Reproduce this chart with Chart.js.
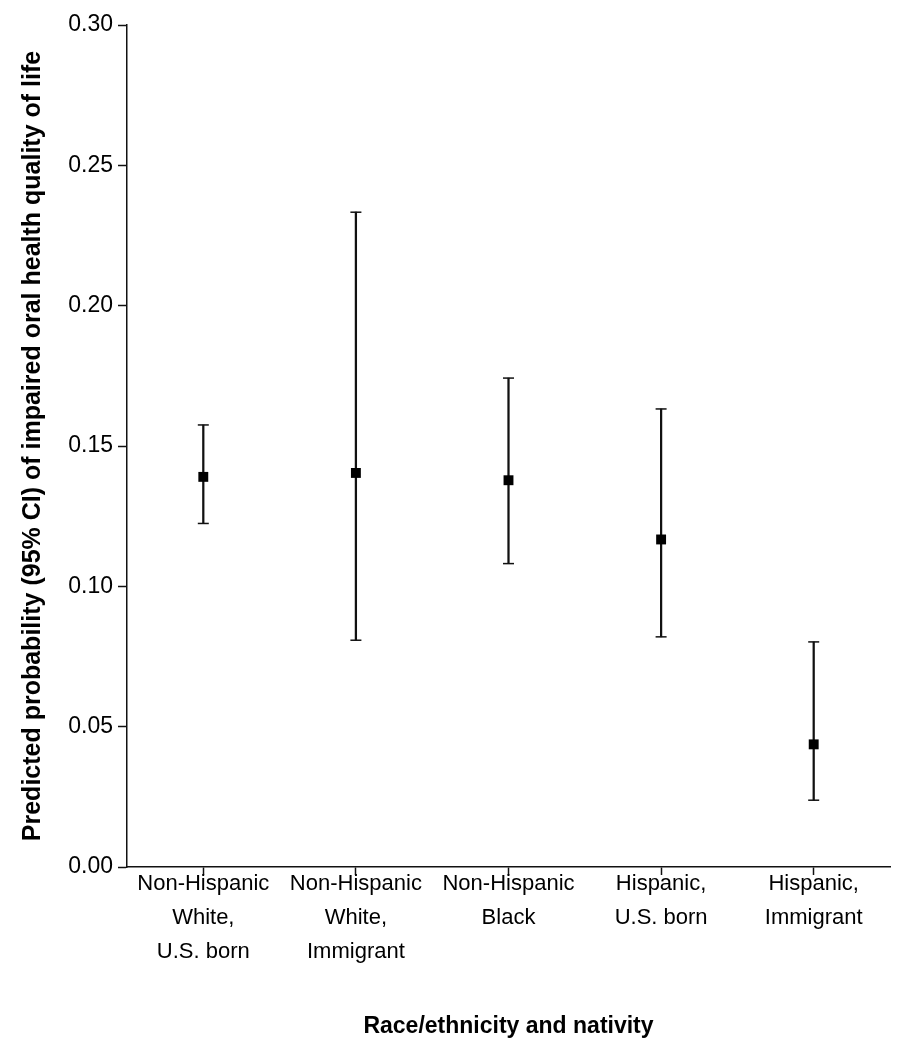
<!DOCTYPE html>
<html>
<head>
<meta charset="utf-8">
<script src="https://cdn.jsdelivr.net/npm/chart.js@4/dist/chart.umd.min.js"></script>
<style>
body{margin:0;background:#fff;}
#wrap{width:913px;height:1050px;position:relative;}
</style>
</head>
<body>
<div id="wrap"><canvas id="probChart"></canvas></div>
<script>
var groups = [
    ['Non-Hispanic', 'White,', 'U.S. born'],
    ['Non-Hispanic', 'White,', 'Immigrant'],
    ['Non-Hispanic', 'Black'],
    ['Hispanic,', 'U.S. born'],
    ['Hispanic,', 'Immigrant']
];
var estimate = [0.139, 0.1404, 0.1378, 0.1167, 0.0437];
var ciLow = [0.1224, 0.0808, 0.1081, 0.0820, 0.0238];
var ciHigh = [0.1575, 0.2333, 0.1742, 0.1632, 0.0802];
var yTicks = [0, 0.05, 0.10, 0.15, 0.20, 0.25, 0.30];

var fontName = "'Liberation Sans', Arial, sans-serif";
var ink = '#111';

window.addEventListener('DOMContentLoaded', init, false);

function init(){
    var whiskers = [];
    for (var i = 0; i < ciLow.length; i++){
        whiskers.push([ciLow[i], ciHigh[i]]);
    }
    var ctx = document.getElementById('probChart').getContext('2d');
    new Chart(ctx, {
        type: 'bar',
        data: {
            labels: groups,
            datasets: [
            {
                // predicted probability
                type: 'line',
                data: estimate,
                showLine: false,
                pointStyle: 'rect',
                pointRadius: 7,
                pointBorderWidth: 0,
                pointBackgroundColor: '#000',
                order: 0
            },
            {
                // upper caps
                type: 'line',
                data: ciHigh,
                showLine: false,
                pointStyle: 'line',
                pointRadius: 5.5,
                pointBorderWidth: 1.5,
                pointBorderColor: ink,
                order: 1
            },
            {
                // lower caps
                type: 'line',
                data: ciLow,
                showLine: false,
                pointStyle: 'line',
                pointRadius: 5.5,
                pointBorderWidth: 1.5,
                pointBorderColor: ink,
                order: 1
            },
            {
                // CI whiskers
                type: 'bar',
                data: whiskers,
                barThickness: 1.6,
                backgroundColor: ink,
                borderWidth: 0,
                order: 2
            }]
        },
        options: {
            responsive: true,
            maintainAspectRatio: false,
            animation: false,
            layout: {padding: {left: 0, top: 25, right: 23, bottom: 0}},
            plugins: {
                legend: {display: false},
                tooltip: {enabled: false}
            },
            scales: {
                x: {
                    offset: true,
                    grid: {display: true, offset: false, drawOnChartArea: false, tickLength: 8, tickColor: ink, tickWidth: 1.5},
                    border: {display: true, color: ink, width: 1.5},
                    ticks: {
                        color: '#000',
                        padding: -8,
                        maxRotation: 0,
                        autoSkip: false,
                        font: {family: fontName, size: 22, lineHeight: 1.55}
                    },
                    title: {
                        display: true,
                        text: 'Race/ethnicity and nativity',
                        color: '#000',
                        font: {family: fontName, size: 23, weight: 'bold', lineHeight: 1.2},
                        padding: {top: 0, bottom: 10}
                    },
                    afterFit: function(scale){
                        scale.height = 183;
                    }
                },
                y: {
                    min: 0,
                    max: 0.3,
                    afterBuildTicks: function(scale){
                        scale.ticks = yTicks.map(function(v){ return {value: v}; });
                    },
                    grid: {display: true, drawOnChartArea: false, tickLength: 9, tickColor: ink, tickWidth: 1.5},
                    border: {display: true, color: ink, width: 1.5},
                    ticks: {
                        color: '#000',
                        padding: 5,
                        font: {family: fontName, size: 23},
                        callback: function(v){ return Number(v).toFixed(2); }
                    },
                    title: {
                        display: true,
                        text: 'Predicted probability (95% CI) of impaired oral health quality of life',
                        color: '#000',
                        font: {family: fontName, size: 25, weight: 'bold', lineHeight: 1.2},
                        padding: {top: 18, bottom: 0}
                    },
                    afterFit: function(scale){
                        scale.width = 127;
                    }
                }
            }
        }
    });
}
</script>
</body>
</html>
